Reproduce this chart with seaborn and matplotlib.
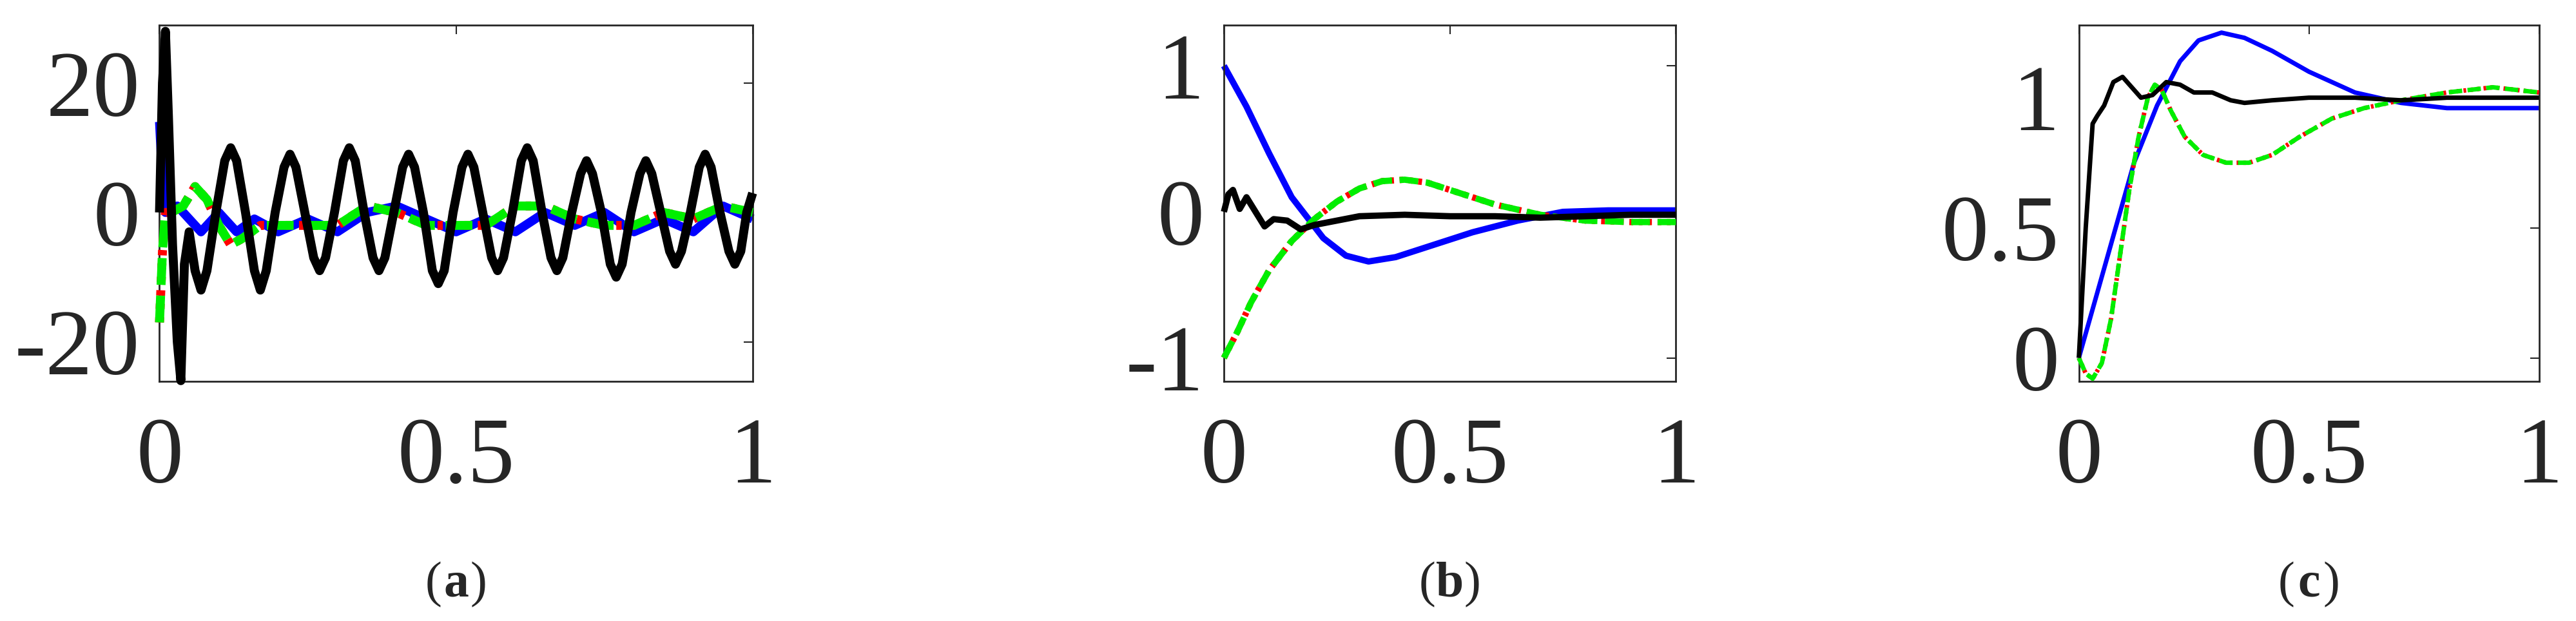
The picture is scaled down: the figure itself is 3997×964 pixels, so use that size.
import numpy as np
import pandas as pd
import matplotlib
matplotlib.use("Agg")
import matplotlib.pyplot as plt
import seaborn as sns

sns.set_theme(style="white")
plt.rcParams['font.family'] = ['Liberation Serif', 'DejaVu Serif']

# ---------------- data (a) ----------------
a_black_x = [0, 0.005, 0.01, 0.015, 0.022, 0.03, 0.036, 0.042, 0.05, 0.06, 0.07, 0.08, 0.095,
             0.11, 0.12, 0.13, 0.145, 0.16, 0.17, 0.18, 0.195, 0.21, 0.22, 0.23, 0.245,
             0.26, 0.27, 0.28, 0.295, 0.31, 0.32, 0.33, 0.345, 0.36, 0.37, 0.38, 0.395,
             0.41, 0.42, 0.43, 0.445, 0.46, 0.47, 0.48, 0.495, 0.51, 0.52, 0.53, 0.545,
             0.56, 0.57, 0.58, 0.595, 0.61, 0.62, 0.63, 0.645, 0.66, 0.67, 0.68, 0.695,
             0.71, 0.72, 0.73, 0.745, 0.76, 0.77, 0.78, 0.795, 0.81, 0.82, 0.83, 0.845,
             0.86, 0.87, 0.88, 0.895, 0.91, 0.92, 0.93, 0.945, 0.96, 0.97, 0.98, 0.99, 1.0]
a_black_y = [0, 20, 28, 15, -5, -20, -26, -8, -3, -9, -12, -9, 0,
             8, 10, 8, 0, -9, -12, -9, 0, 7, 9, 7, 0,
             -7, -9, -7, 0, 8, 10, 8, 0, -7, -9, -7, 0,
             7, 9, 7, 0, -9, -11, -9, 0, 7, 9, 7, 0,
             -7, -9, -7, 0, 8, 10, 8, 0, -7, -9, -7, 0,
             6, 8, 6, 0, -8, -10, -8, 0, 6, 8, 6, 0,
             -6, -8, -6, 0, 7, 9, 7, 0, -6, -8, -6, 0, 3]
a_blue_x = [0, 0.005, 0.01, 0.03, 0.05, 0.07, 0.1, 0.13, 0.16, 0.2, 0.25, 0.3, 0.35,
            0.4, 0.45, 0.5, 0.55, 0.6, 0.65, 0.7, 0.75, 0.8, 0.85, 0.9, 0.95, 1.0]
a_blue_y = [14, 5, 0, 1, -1, -3, 0, -3, -1, -3, -1, -3, 0,
            1, -1, -3, -1, -3, 0, -2, 0, -3, -1, -3, 1, -1]
a_red_x = [0, 0.005, 0.01, 0.02, 0.04, 0.06, 0.08, 0.1, 0.12, 0.14, 0.17, 0.2, 0.25,
           0.3, 0.35, 0.4, 0.45, 0.5, 0.55, 0.6, 0.65, 0.7, 0.75, 0.8, 0.85, 0.9, 0.95, 1.0]
a_red_y = [-17, -6, 0, 0, 1, 4, 2, -2, -5, -4, -2, -2, -2,
           -2, 1, 0, -2, -2, -2, 1, 1, -1, -2, -2, 0, -1, 1, 0]

# ---------------- data (b) ----------------
b_blue_x = [0, 0.05, 0.1, 0.15, 0.18, 0.22, 0.27, 0.32, 0.38, 0.45, 0.55, 0.65, 0.75, 0.85, 1.0]
b_blue_y = [1, 0.72, 0.4, 0.1, -0.02, -0.18, -0.3, -0.34, -0.31, -0.24, -0.14, -0.06, 0.0, 0.01, 0.01]
b_black_x = [0, 0.01, 0.02, 0.035, 0.05, 0.07, 0.09, 0.11, 0.14, 0.17, 0.2, 0.25, 0.3, 0.4, 0.5, 0.6, 0.7, 0.8, 0.9, 1.0]
b_black_y = [0, 0.12, 0.15, 0.02, 0.1, 0.0, -0.1, -0.05, -0.06, -0.12, -0.09, -0.06, -0.03, -0.02, -0.03, -0.03, -0.04, -0.03, -0.02, -0.02]
b_red_x = [0, 0.03, 0.06, 0.1, 0.15, 0.2, 0.25, 0.3, 0.35, 0.4, 0.45, 0.5, 0.6, 0.7, 0.8, 0.9, 1.0]
b_red_y = [-1, -0.82, -0.62, -0.4, -0.2, -0.05, 0.07, 0.16, 0.21, 0.22, 0.2, 0.15, 0.05, -0.02, -0.06, -0.07, -0.07]

# ---------------- data (c) ----------------
c_blue_x = [0, 0.04, 0.08, 0.12, 0.17, 0.22, 0.26, 0.31, 0.36, 0.42, 0.5, 0.6, 0.7, 0.8, 0.9, 1.0]
c_blue_y = [0, 0.25, 0.5, 0.75, 0.97, 1.14, 1.22, 1.25, 1.23, 1.18, 1.1, 1.02, 0.98, 0.96, 0.96, 0.96]
c_black_x = [0, 0.015, 0.03, 0.04, 0.055, 0.075, 0.095, 0.115, 0.135, 0.16, 0.19, 0.22, 0.25, 0.29, 0.33, 0.36, 0.42, 0.5, 0.6, 0.7, 0.8, 0.9, 1.0]
c_black_y = [0, 0.5, 0.9, 0.93, 0.97, 1.06, 1.08, 1.04, 1.0, 1.01, 1.06, 1.05, 1.02, 1.02, 0.99, 0.98, 0.99, 1.0, 1.0, 0.99, 1.0, 1.0, 1.0]
c_red_x = [0, 0.015, 0.03, 0.05, 0.07, 0.09, 0.11, 0.13, 0.15, 0.165, 0.18, 0.2, 0.23, 0.27, 0.32, 0.37, 0.42, 0.48, 0.55, 0.62, 0.7, 0.8, 0.9, 1.0]
c_red_y = [0, -0.06, -0.08, -0.02, 0.15, 0.4, 0.65, 0.85, 1.0, 1.05, 1.03, 0.95, 0.85, 0.78, 0.75, 0.75, 0.78, 0.85, 0.92, 0.96, 0.99, 1.02, 1.04, 1.02]

tick_labels_x = ["0", "0.5", "1"]
captions = ["a", "b", "c"]

panels = [
    dict(rect=[0.0619, 0.386, 0.2302, 0.574], ylim=(-26.1, 29), yticks=[-20, 0, 20], ylabels=["-20", "0", "20"],
         black=(a_black_x, a_black_y), blue=(a_blue_x, a_blue_y), red=(a_red_x, a_red_y), lw=10),
    dict(rect=[0.475, 0.386, 0.1754, 0.574], ylim=(-1.16, 1.28), yticks=[-1, 0, 1], ylabels=["-1", "0", "1"],
         black=(b_black_x, b_black_y), blue=(b_blue_x, b_blue_y), red=(b_red_x, b_red_y), lw=7),
    dict(rect=[0.8068, 0.386, 0.1786, 0.574], ylim=(-0.09, 1.28), yticks=[0, 0.5, 1], ylabels=["0", "0.5", "1"],
         black=(c_black_x, c_black_y), blue=(c_blue_x, c_blue_y), red=(c_red_x, c_red_y), lw=5),
]

fig = plt.figure(figsize=(39.98, 9.64), dpi=100)
for p, cap in zip(panels, captions):
    ax = fig.add_axes(p["rect"])
    lw = p["lw"]
    bx, by = p["black"]; ux, uy = p["blue"]; rx, ry = p["red"]
    sns.lineplot(x=ux, y=uy, ax=ax, color="#0000ff", linewidth=lw, sort=False, zorder=2)
    sns.lineplot(x=rx, y=ry, ax=ax, color="#ff0000", linewidth=lw, sort=False, zorder=3, linestyle=(0, (0.6, 0.9)))
    sns.lineplot(x=rx, y=ry, ax=ax, color="#00ee00", linewidth=lw, sort=False, zorder=4, linestyle=(0, (3.0, 1.2)))
    sns.lineplot(x=bx, y=by, ax=ax, color="black", linewidth=lw, sort=False, zorder=5)
    for l in ax.lines:
        l.set_clip_on(False)
        l.set_linewidth(lw)
        l.set_solid_capstyle("butt")
        l.set_solid_joinstyle("round")
    ax.set_xlim(0, 1)
    ax.set_ylim(*p["ylim"])
    ax.set_xticks([0, 0.5, 1])
    ax.set_xticklabels(tick_labels_x)
    ax.set_yticks(p["yticks"])
    ax.set_yticklabels(p["ylabels"])
    ax.tick_params(direction="in", length=10, width=1.5, top=True, right=True, labelsize=105,
                   labelcolor="#262626", color="#262626")
    ax.tick_params(axis="x", pad=40)
    ax.tick_params(axis="y", pad=22)
    for s in ax.spines.values():
        s.set_color("#262626"); s.set_linewidth(2)
    ax.set_xlabel(""); ax.set_ylabel("")
    yc = -0.57
    ax.annotate("(", (0.5, yc), xycoords="axes fraction", ha="right", va="center", fontsize=56, xytext=(-16, 0), textcoords="offset points")
    ax.annotate(cap, (0.5, yc), xycoords="axes fraction", ha="center", va="center", fontsize=56, fontweight="bold")
    ax.annotate(")", (0.5, yc), xycoords="axes fraction", ha="left", va="center", fontsize=56, xytext=(16, 0), textcoords="offset points")

fig.savefig("out.png", dpi=100, facecolor="white")
